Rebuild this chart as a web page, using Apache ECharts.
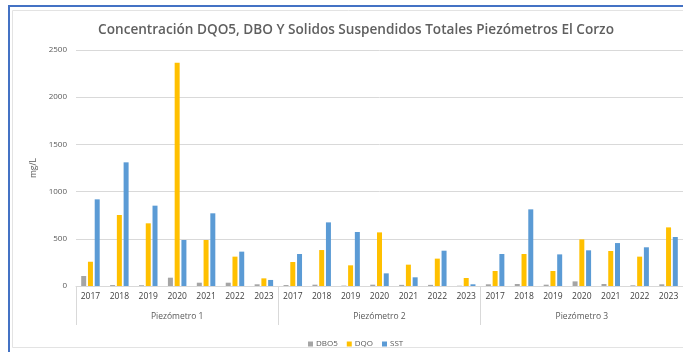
<!DOCTYPE html>
<html>
<head>
<meta charset="utf-8">
<script src="https://cdn.jsdelivr.net/npm/echarts@6/dist/echarts.min.js"></script>
<style>
  html, body { margin: 0; padding: 0; background: #fff; }
  #chart { width: 683px; height: 352px; }
</style>
</head>
<body>
<div id="chart"></div>
<script>
// Years sampled at each piezometer
const years = ['2017', '2018', '2019', '2020', '2021', '2022', '2023'];
const wells = ['Piezómetro 1', 'Piezómetro 2', 'Piezómetro 3'];

// Concentrations in mg/L, ordered well by well, year by year
const dbo5 = [106, 10, 8, 88, 35, 35, 18,
              10, 14, 4, 14, 12, 12, 3,
              18, 21, 14, 49, 21, 7, 18];
const dqo  = [257, 752, 664, 2366, 487, 311, 81,
              254, 381, 219, 568, 226, 290, 85,
              159, 339, 159, 494, 371, 311, 621];
const sst  = [918, 1310, 851, 487, 770, 364, 64,
              339, 674, 572, 134, 92, 374, 18,
              339, 812, 335, 378, 455, 410, 519];

const yTicks = [0, 500, 1000, 1500, 2000, 2500];

const categories = [];
wells.forEach(() => years.forEach(y => categories.push(y)));

const font = 'Open Sans';
const grid = '#D9D9D9';
const txt = '#595959';

const chart = echarts.init(document.getElementById('chart'));
chart.setOption({
  animation: false,
  textStyle: { fontFamily: font },
  title: {
    text: 'Concentración DQO5, DBO Y Solidos Suspendidos Totales Piezómetros El Corzo',
    left: 351, top: 18, textAlign: 'center',
    textStyle: { fontFamily: font, fontSize: 13.6, fontWeight: 600, color: '#5f5f5f' }
  },
  legend: {
    left: 303, top: 335, itemWidth: 5, itemHeight: 5, itemGap: 9,
    icon: 'rect',
    textStyle: { fontFamily: font, fontSize: 8, color: txt, padding: [0, 0, 0, -2] },
    data: ['DBO5', 'DQO', 'SST']
  },
  grid: { left: 76, right: 0, top: 50, bottom: 66 },
  xAxis: [{
    type: 'category', data: categories, position: 'bottom',
    axisLine: { lineStyle: { color: grid } },
    axisTick: { show: false },
    axisLabel: { interval: 0, color: '#404040', fontSize: 8.5, margin: 6 }
  }, {
    type: 'category', data: wells, position: 'bottom',
    axisLine: { show: false },
    axisTick: { show: true, length: 39, lineStyle: { color: grid } },
    axisLabel: { color: txt, fontSize: 8.5, margin: 26 }
  }],
  yAxis: {
    type: 'value', min: yTicks[0], max: yTicks[yTicks.length - 1], interval: 500,
    name: 'mg/L', nameLocation: 'middle', nameGap: 38, nameRotate: 90,
    nameTextStyle: { color: txt, fontSize: 8.5 },
    axisLine: { show: false }, axisTick: { show: false },
    axisLabel: { color: txt, fontSize: 8, margin: 9, formatter: v => String(v) },
    splitLine: { lineStyle: { color: grid } }
  },
  series: [
    { name: 'DBO5', type: 'bar', data: dbo5, barWidth: 5, barGap: '35%', itemStyle: { color: '#A5A5A5' } },
    { name: 'DQO', type: 'bar', data: dqo, barWidth: 5, barGap: '35%', itemStyle: { color: '#FFC000' } },
    { name: 'SST', type: 'bar', data: sst, barWidth: 5, barGap: '35%', itemStyle: { color: '#5B9BD5' } }
  ],
  graphic: [{
    type: 'rect', silent: true, z: 100,
    shape: { x: 9, y: 6, width: 700, height: 360 },
    style: { fill: 'none', stroke: '#4472C4', lineWidth: 2 }
  }, {
    type: 'rect', silent: true, z: 99,
    shape: { x: 12.5, y: 10.5, width: 700, height: 337 },
    style: { fill: 'none', stroke: '#E3E3E3', lineWidth: 1 }
  }]
});
</script>
</body>
</html>
